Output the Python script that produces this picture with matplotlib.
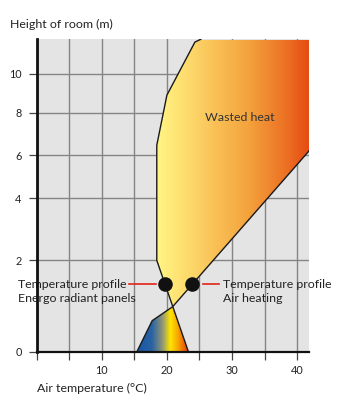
import numpy as np
import matplotlib
matplotlib.use("Agg")
import matplotlib.pyplot as plt
from matplotlib.patches import Polygon
from matplotlib.colors import LinearSegmentedColormap
from matplotlib.ticker import FixedLocator, FixedFormatter

plt.rcParams['font.family'] = ['Lato', 'DejaVu Sans']

# --- data -------------------------------------------------------------
# Temperature profile with Energo radiant panels (temperature °C, height m)
radiant_temp = [23.3, 18.45, 18.45, 20.0, 24.3, 25.2]
radiant_height = [0.0, 2.0, 6.47, 8.9, 11.6, 11.74]

# Temperature profile with air heating
air_temp = [15.4, 17.75, 20.88, 41.8]
air_height = [0.0, 0.68, 0.985, 6.2]

# Where both profiles cross
cross_temp = 20.88
cross_height = 0.985

# Marked points on each profile
marker_temp = [19.75, 23.85]
marker_height = [1.475, 1.475]

x_ticks = [0, 5, 10, 15, 20, 25, 30, 35, 40]
x_tick_labels = ['', '', '10', '', '20', '', '30', '', '40']
y_ticks = [0, 2, 4, 6, 8, 10]
y_tick_labels = ['0', '2', '4', '6', '8', '10']

x_max = 41.8
y_max = 11.74

# --- non-uniform height axis -----------------------------------------
scale_h = [-1, 0, 2, 4, 6, 8, 10, 12]
scale_p = [-45.7, 0, 91.4, 153.4, 196.7, 239.0, 278.4, 317.8]


def fwd(v):
    return np.interp(v, scale_h, scale_p, left=-45.7, right=317.8)


def inv(p):
    return np.interp(p, scale_p, scale_h, left=-1, right=12)


W, H = 340, 403
fig = plt.figure(figsize=(W / 100, H / 100), dpi=100)
ax = fig.add_axes([36.5 / W, (H - 351.7) / H, (309 - 36.5) / W, (351.7 - 39.3) / H])
ax.set_yscale('function', functions=(fwd, inv))
ax.set_xlim(0, x_max)
ax.set_ylim(0, y_max)
ax.set_facecolor('#E4E4E4')

for s in ['top', 'right']:
    ax.spines[s].set_visible(False)
ax.spines['left'].set_linewidth(2.0)
ax.spines['bottom'].set_linewidth(1.6)
ax.spines['left'].set_color('#111111')
ax.spines['bottom'].set_color('#111111')
ax.spines['left'].set_zorder(6)
ax.spines['bottom'].set_zorder(6)

ax.xaxis.set_major_locator(FixedLocator(x_ticks))
ax.xaxis.set_major_formatter(FixedFormatter(x_tick_labels))
ax.yaxis.set_major_locator(FixedLocator(y_ticks))
ax.yaxis.set_major_formatter(FixedFormatter(y_tick_labels))
ax.yaxis.set_minor_locator(FixedLocator([]))
ax.tick_params(axis='both', length=5.8, width=0.9, color='#444444',
               labelsize=7.8, labelcolor='#222222')
ax.tick_params(axis='y', pad=5)
ax.tick_params(axis='x', pad=4)

ax.set_axisbelow(True)
ax.grid(True, color='#858585', linewidth=1.0)

# --- shaded regions ---------------------------------------------------
upper = [(cross_temp, cross_height)]
upper += [(t, h) for t, h in zip(radiant_temp, radiant_height) if h > cross_height]
upper += [(x_max + 1, y_max + 0.5), (x_max + 1, air_height[-1])]
upper += [(t, h) for t, h in zip(air_temp[::-1], air_height[::-1]) if h > cross_height]
upper_patch = Polygon(upper, closed=True, facecolor='none', edgecolor='none')
ax.add_patch(upper_patch)

lower = [(air_temp[0], air_height[0])]
lower += [(t, h) for t, h in zip(air_temp, air_height) if 0 < h < cross_height]
lower += [(cross_temp, cross_height), (radiant_temp[0], radiant_height[0])]
lower_patch = Polygon(lower, closed=True, facecolor='none', edgecolor='none')
ax.add_patch(lower_patch)

warm = LinearSegmentedColormap.from_list('warm', [
    (0.00, '#FFF385'), (0.10, '#FFE878'), (0.35, '#FAC55A'),
    (0.60, '#F4A23C'), (0.85, '#EC7024'), (1.00, '#E64A12')])
mixed = LinearSegmentedColormap.from_list('mixed', [
    (0.00, '#1557A8'), (0.28, '#2A63A2'), (0.48, '#8E9478'),
    (0.64, '#FFE400'), (0.80, '#F6A000'), (1.00, '#E3300F')])

grad = np.linspace(0, 1, 256)[None, :]
x0 = min(radiant_temp[1:])
im1 = ax.imshow(grad, cmap=warm, aspect='auto', interpolation='bilinear',
                extent=(x0, x_max, 0, y_max), zorder=2)
im1.set_clip_path(upper_patch)
im2 = ax.imshow(grad, cmap=mixed, aspect='auto', interpolation='bilinear',
                extent=(air_temp[0], radiant_temp[0], 0, cross_height), zorder=2)
im2.set_clip_path(lower_patch)
ax.set_xlim(0, x_max)
ax.set_ylim(0, y_max)

# --- profiles -----------------------------------------------------------
ax.plot(radiant_temp, radiant_height, color='#1A1A1A', lw=1.0, zorder=4,
        solid_joinstyle='round')
ax.plot(air_temp, air_height, color='#1A1A1A', lw=1.0, zorder=4,
        solid_joinstyle='round')
ax.scatter(marker_temp, marker_height, s=110, color='#111111', zorder=5,
           linewidths=0)

# leader lines to the labels
red = '#E2231A'
ax.plot([14.23, 18.33], [marker_height[0]] * 2, color=red, lw=1.2,
        zorder=4, clip_on=False)
ax.plot([25.58, 28.0], [marker_height[1]] * 2, color=red, lw=1.2,
        zorder=4, clip_on=False)

fs = 8.9
txt = dict(fontsize=fs, color='#222222', va='center', clip_on=False)
ax.annotate('Temperature profile', xy=(-2.84, marker_height[0]),
            ha='left', annotation_clip=False, **txt)
ax.annotate('Energo radiant panels', xy=(-2.84, marker_height[0]),
            xytext=(0, -10.4), textcoords='offset points', ha='left',
            annotation_clip=False, **txt)
ax.annotate('Temperature profile', xy=(28.6, marker_height[1]),
            ha='left', annotation_clip=False, **txt)
ax.annotate('Air heating', xy=(28.6, marker_height[1]),
            xytext=(0, -10.4), textcoords='offset points', ha='left',
            annotation_clip=False, **txt)

ax.text(31.2, 7.8, 'Wasted heat', fontsize=fs, color='#333333',
        ha='center', va='center', zorder=6)

fig.text(10 / W, 1 - 24 / H, 'Height of room (m)', fontsize=fs,
         color='#222222', ha='left', va='center')
fig.text(37 / W, 1 - 388 / H, 'Air temperature (°C)', fontsize=fs,
         color='#222222', ha='left', va='center')

fig.savefig('out.png', dpi=100)
